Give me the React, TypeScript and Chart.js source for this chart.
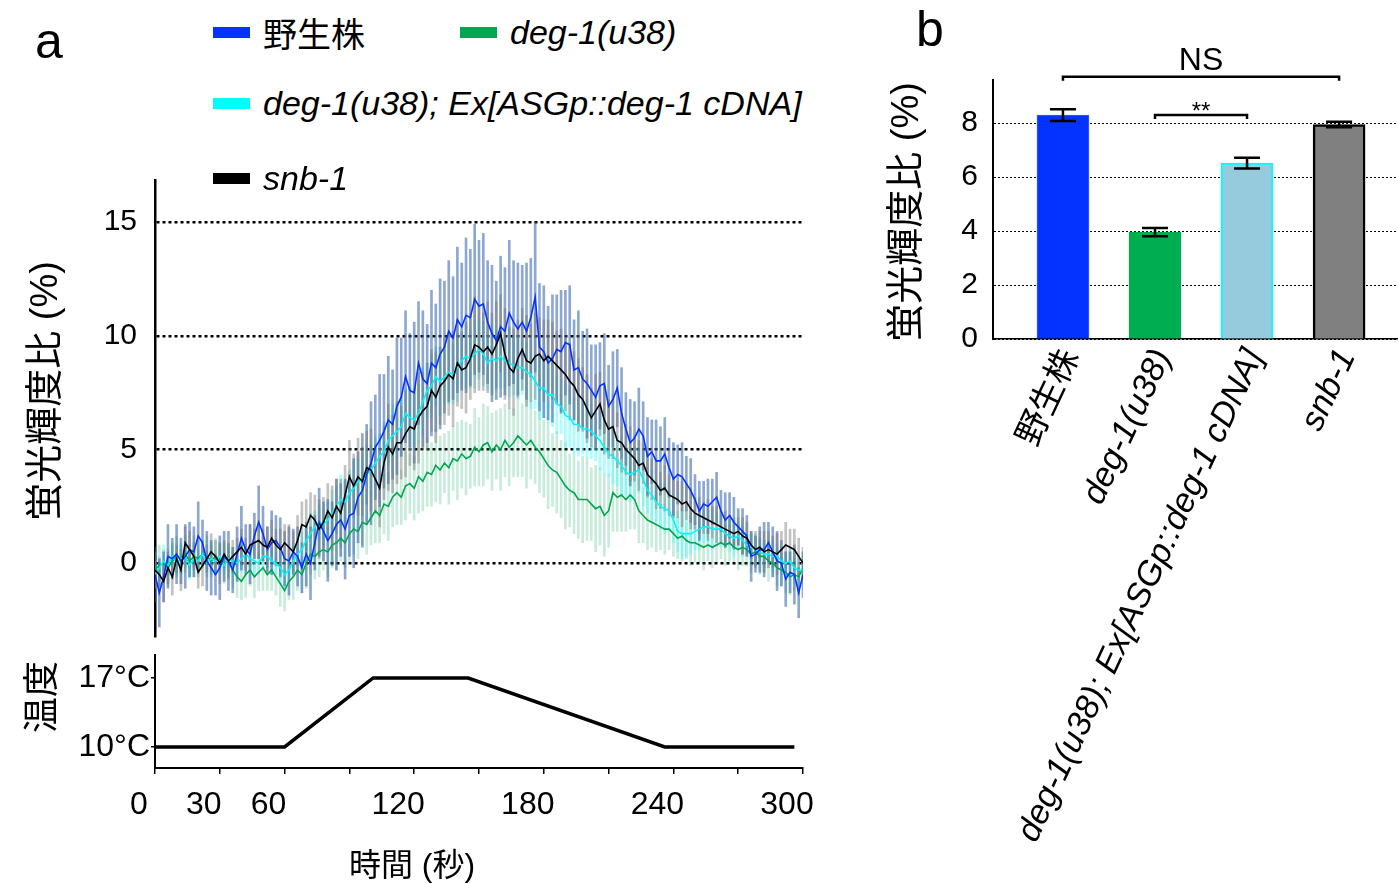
import React, { useEffect, useRef } from 'react';
import { Chart, registerables } from 'chart.js';

Chart.register(...registerables);

const FONT = '"Liberation Sans", Arial, "Noto Sans CJK JP", sans-serif';

// ---------------- data ----------------
const SAMPLE_STEP = 2; // seconds between samples

const seriesNames = ['野生株', 'deg-1(u38)', 'deg-1(u38); Ex[ASGp::deg-1 cDNA]', 'snb-1'];

const wildType = [
  -0.5, -1.3, -0.6, 0.3, 0.2, 0.4, 0.1, 0.3, 0.6, 0.5,
  1.2, 0.9, 0.1, -0.2, -0.5, -0.2, 0.3, 0.1, -0.3, 0.4,
  1.1, 0.6, 0.4, 1.2, 1.8, 1.3, 0.6, 0.9, 1.0, 0.7,
  0.2, 0.1, 0.5, 0.3, -0.2, 0.4, 0.0, 0.9, 1.8, 1.4,
  1.0, 1.3, 1.7, 1.9, 1.5, 2.1, 2.2, 2.9, 3.2, 3.9,
  4.4, 5.1, 5.4, 5.8, 6.3, 6.1, 6.9, 7.3, 8.2, 7.6,
  7.5, 8.8, 8.1, 7.9, 8.8, 8.6, 9.2, 9.5, 10.2, 9.9,
  10.7, 10.4, 10.9, 10.8, 11.6, 11.3, 11.4, 10.6, 10.1, 9.8,
  10.4, 10.2, 11.0, 10.6, 10.3, 10.6, 10.2, 10.8, 11.7, 9.5,
  9.3, 8.8, 9.0, 9.4, 9.3, 9.7, 9.6, 8.5, 8.6, 8.1,
  7.9, 7.6, 7.3, 7.8, 7.9, 6.9, 7.2, 7.7, 6.6, 5.9,
  5.3, 5.5, 5.9, 5.6, 4.7, 4.9, 4.5, 4.5, 4.8, 4.2,
  3.7, 3.9, 3.8, 3.5, 3.2, 2.8, 2.3, 2.6, 2.5, 2.7,
  2.9, 2.3, 1.9, 2.1, 1.8, 1.6, 1.4, 1.2, 0.3, 0.4,
  0.6, 0.6, 0.9, 0.5, 0.1, 0.0, -0.7, -0.4, -0.5, -1.3,
  -0.5,
];
const wildTypeErr = [
  1.2, 1.5, 1.1, 1.4, 0.9, 1.3, 1.0, 1.4, 1.2, 1.1,
  1.5, 1.0, 1.3, 1.2, 0.9, 1.4, 1.1, 1.3, 1.0, 1.2,
  1.4, 1.1, 1.3, 1.0, 1.6, 1.2, 1.0, 1.4, 1.1, 1.3,
  1.2, 1.5, 1.0, 1.3, 1.1, 1.4, 1.6, 1.2, 1.5, 1.3,
  1.8, 1.4, 2.0, 1.6, 2.2, 1.8, 2.4, 2.0, 2.5, 2.2,
  2.7, 2.3, 2.9, 2.5, 2.8, 2.4, 3.0, 2.6, 2.9, 2.5,
  3.1, 2.7, 3.0, 2.6, 3.2, 2.8, 3.3, 2.9, 3.1, 2.7,
  3.2, 2.8, 3.4, 3.0, 3.3, 2.9, 3.1, 2.7, 3.0, 2.6,
  3.1, 2.8, 3.2, 2.7, 2.9, 2.5, 3.0, 2.6, 3.3, 2.8,
  2.9, 2.5, 2.8, 2.4, 2.7, 2.3, 2.6, 2.2, 2.5, 2.1,
  2.4, 2.0, 2.3, 1.9, 2.2, 1.8, 2.1, 1.7, 2.0, 1.6,
  1.9, 1.6, 1.8, 1.5, 1.7, 1.4, 1.8, 1.5, 1.6, 1.3,
  1.6, 1.3, 1.5, 1.2, 1.4, 1.1, 1.3, 1.0, 1.2, 1.0,
  1.1, 0.9, 1.2, 1.0, 1.1, 0.8, 1.0, 0.9, 1.1, 0.8,
  1.0, 1.2, 0.9, 1.1, 1.3, 1.0, 1.2, 0.9, 1.3, 1.1,
  1.0,
];

const deg1 = [
  -0.3, -0.1, 0.0, -0.2, 0.1, 0.3, 0.2, 0.4, 0.1, 0.3,
  0.2, 0.4, 0.3, 0.1, 0.3, 0.2, 0.0, 0.1, -0.3, -0.6,
  -0.8, -0.5, -0.3, -0.6, -0.4, -0.2, -0.5, -0.3, -0.6, -0.9,
  -1.2, -0.8, -0.6, -0.3, -0.5, 0.0, 0.4, 0.3, 0.5, 0.6,
  0.5, 0.8, 0.9, 1.1, 0.9, 1.3, 1.5, 1.4, 1.8, 1.7,
  2.0, 2.3, 2.1, 2.6, 2.5, 2.9, 3.1, 2.9, 3.4, 3.5,
  3.3, 3.8, 3.6, 4.0, 3.9, 4.3, 4.1, 4.4, 4.2, 4.6,
  4.5, 4.8, 4.6, 4.7, 5.1, 4.9, 5.2, 5.3, 4.9, 5.2,
  5.0, 5.4, 5.1, 5.3, 5.6, 5.4, 5.2, 5.4, 5.1, 4.9,
  4.6, 4.3, 4.1, 4.0, 3.7, 3.4, 3.2, 3.1, 2.8, 2.8,
  2.8, 2.6, 2.4, 2.5, 2.1, 2.3, 3.1, 2.9, 3.0, 2.8,
  3.0, 2.8, 2.3, 2.1, 1.9, 1.8, 1.7, 1.6, 1.5, 1.5,
  1.3, 1.1, 1.2, 1.0, 0.9, 0.9, 0.8, 0.7, 0.8, 0.7,
  0.8, 0.9, 0.8, 0.9, 0.7, 0.6, 0.7, 0.6, 0.4, 0.5,
  0.3, 0.3, 0.1, 0.0, -0.2, -0.3, -0.4, -0.6, -0.5, -0.6,
  -0.2,
];
const deg1Err = [
  0.7, 0.9, 0.6, 0.8, 0.7, 0.9, 0.6, 0.8, 0.7, 0.9,
  0.8, 0.6, 0.9, 0.7, 0.8, 0.6, 0.9, 0.7, 0.8, 0.9,
  0.8, 1.0, 0.7, 0.9, 0.8, 1.0, 0.7, 0.9, 0.8, 1.0,
  0.9, 0.8, 1.0, 0.9, 0.8, 1.1, 0.9, 1.0, 1.1, 0.9,
  1.1, 1.0, 1.2, 1.0, 1.1, 1.3, 1.1, 1.2, 1.0, 1.3,
  1.2, 1.4, 1.2, 1.3, 1.5, 1.3, 1.4, 1.2, 1.5, 1.3,
  1.4, 1.6, 1.3, 1.5, 1.4, 1.6, 1.5, 1.3, 1.6, 1.4,
  1.7, 1.5, 1.6, 1.4, 1.7, 1.5, 1.8, 1.6, 1.7, 1.5,
  1.8, 1.6, 1.7, 1.5, 1.8, 1.6, 1.9, 1.7, 1.6, 1.8,
  1.7, 1.9, 1.6, 1.8, 1.7, 1.9, 1.6, 1.8, 1.7, 1.9,
  1.8, 1.6, 1.9, 1.7, 1.8, 1.6, 1.7, 1.5, 1.6, 1.4,
  1.5, 1.3, 1.4, 1.2, 1.3, 1.1, 1.2, 1.0, 1.1, 0.9,
  1.0, 0.9, 1.1, 0.8, 1.0, 0.9, 0.8, 1.0, 0.7, 0.9,
  0.8, 0.7, 0.9, 0.8, 0.7, 0.9, 0.8, 0.7, 0.8, 0.6,
  0.8, 0.7, 0.9, 0.6, 0.8, 0.7, 0.9, 0.8, 0.7, 0.8,
  0.7,
];

const rescue = [
  -0.5, -0.2, 0.1, -0.1, 0.3, 0.0, 0.2, 0.3, -0.1, 0.2,
  0.1, 0.4, 0.0, 0.2, 0.1, 0.3, -0.1, 0.2, 0.1, 0.0,
  0.2, 0.4, 0.2, 0.1, 0.0, 0.3, 0.3, 0.1, 0.0, -0.2,
  -0.5, -0.3, 0.1, 0.4, 0.6, 1.0, 1.3, 1.6, 1.8, 1.7,
  1.9, 2.2, 2.5, 2.8, 2.7, 3.1, 3.3, 3.6, 3.7, 3.9,
  4.1, 4.4, 4.7, 4.9, 5.4, 5.6, 5.8, 6.0, 6.6, 6.4,
  6.3, 6.6, 7.1, 7.6, 7.8, 8.2, 8.0, 8.2, 8.4, 8.3,
  8.6, 8.9, 9.1, 9.0, 9.2, 9.4, 9.2, 8.8, 9.0, 8.9,
  9.1, 8.9, 8.8, 8.7, 8.6, 8.6, 8.4, 8.3, 8.0, 7.7,
  7.7, 7.4, 7.4, 7.0, 6.9, 6.5, 6.4, 6.1, 6.1, 5.9,
  5.9, 5.8, 5.6, 5.4, 5.1, 4.8, 4.7, 4.5, 4.3, 4.0,
  3.9, 4.0, 4.1, 3.7, 3.2, 3.0, 2.7, 2.5, 2.4, 2.3,
  1.9, 1.4, 1.3, 1.3, 1.3, 1.4, 1.5, 1.6, 1.6, 1.5,
  1.5, 1.5, 1.3, 1.2, 1.1, 1.2, 1.0, 0.8, 0.7, 0.6,
  0.5, 0.4, 0.4, 0.3, 0.3, 0.1, 0.0, 0.1, -0.2, -0.3,
  -0.3,
];
const rescueErr = [
  0.6, 0.5, 0.7, 0.4, 0.6, 0.5, 0.7, 0.5, 0.6, 0.4,
  0.5, 0.6, 0.4, 0.7, 0.5, 0.6, 0.4, 0.5, 0.6, 0.5,
  0.6, 0.4, 0.5, 0.7, 0.5, 0.6, 0.4, 0.6, 0.5, 0.7,
  0.6, 0.5, 0.7, 0.6, 0.8, 0.7, 0.9, 0.7, 0.8, 0.9,
  0.8, 1.0, 0.9, 1.1, 0.9, 1.0, 1.2, 1.0, 1.1, 1.3,
  1.1, 1.2, 1.0, 1.3, 1.1, 1.4, 1.2, 1.3, 1.1, 1.4,
  1.2, 1.3, 1.5, 1.2, 1.4, 1.3, 1.5, 1.2, 1.4, 1.3,
  1.5, 1.2, 1.4, 1.3, 1.5, 1.3, 1.4, 1.2, 1.5, 1.3,
  1.4, 1.2, 1.5, 1.3, 1.4, 1.2, 1.3, 1.5, 1.2, 1.4,
  1.3, 1.2, 1.4, 1.3, 1.2, 1.4, 1.3, 1.2, 1.4, 1.1,
  1.3, 1.2, 1.1, 1.3, 1.2, 1.0, 1.2, 1.1, 1.3, 1.0,
  1.2, 1.1, 1.0, 1.2, 1.0, 1.1, 0.9, 1.0, 1.1, 0.9,
  1.0, 0.9, 1.1, 1.0, 0.9, 0.8, 0.9, 0.7, 0.8, 0.9,
  0.7, 0.8, 0.6, 0.7, 0.8, 0.6, 0.7, 0.5, 0.6, 0.7,
  0.5, 0.6, 0.5, 0.7, 0.5, 0.6, 0.4, 0.6, 0.5, 0.6,
  0.5,
];

const snb1 = [
  -0.3, -0.5, -0.8, -0.2, -0.6, 0.2, -0.3, 0.9, 0.6, 0.3,
  -0.4, -0.1, 0.2, 0.5, 0.3, 0.0, 0.4, 0.1, 0.3, 0.5,
  0.7, 0.4, 0.8, 0.9, 1.0, 0.8, 0.7, 1.1, 0.8, 0.6,
  0.9, 0.7, 0.5, 1.0, 1.7, 1.6, 2.1, 1.9, 1.5, 1.8,
  2.3, 2.0, 2.5, 2.2, 3.0, 3.8, 3.4, 3.8, 3.6, 4.2,
  4.1, 3.7, 3.3, 4.4, 5.1, 4.8, 5.3, 5.3, 5.7, 6.0,
  5.9, 6.4, 6.7, 6.9, 7.6, 7.3, 7.8, 8.0, 8.3, 8.1,
  8.8, 8.5, 8.6, 9.0, 9.6, 9.5, 9.3, 9.5, 9.2, 9.6,
  10.1, 9.2, 8.6, 8.4, 9.0, 9.4, 8.9, 8.8, 9.1, 9.2,
  8.9, 9.1, 8.9, 8.7, 8.5, 8.3, 8.0, 7.8, 7.4, 7.2,
  6.8, 6.4, 6.7, 7.0, 6.3, 5.9, 6.0, 5.4, 5.3, 5.0,
  4.8, 4.6, 4.3, 4.4, 3.9, 3.7, 3.5, 3.2, 3.3, 3.0,
  2.9, 2.8, 2.6, 2.7, 2.4, 2.2, 2.1, 2.0, 1.9, 1.8,
  1.7, 1.6, 1.5, 1.4, 1.3, 1.4, 1.2, 1.1, 0.8, 0.6,
  0.7, 0.5, 0.6, 0.5, 0.4, 0.6, 0.8, 0.7, 0.6, 0.3,
  0.0,
];
const snb1Err = [
  0.8, 0.6, 0.9, 0.7, 0.8, 0.6, 0.9, 0.7, 0.8, 0.6,
  0.7, 0.9, 0.6, 0.8, 0.7, 0.9, 0.6, 0.8, 0.7, 0.6,
  0.8, 0.7, 0.9, 0.6, 0.8, 0.7, 0.9, 0.8, 0.7, 0.9,
  0.8, 1.0, 0.9, 1.1, 1.0, 1.2, 1.0, 1.1, 1.3, 1.1,
  1.2, 1.4, 1.2, 1.5, 1.3, 1.6, 1.4, 1.7, 1.5, 1.6,
  1.8, 1.5, 1.7, 1.6, 1.9, 1.7, 1.8, 1.6, 1.9, 1.7,
  1.8, 2.0, 1.7, 1.9, 1.8, 2.0, 1.7, 1.9, 1.8, 2.1,
  1.9, 1.7, 2.0, 1.8, 2.1, 1.9, 1.7, 2.0, 1.8, 1.9,
  1.7, 2.0, 1.8, 1.9, 1.7, 1.8, 2.0, 1.7, 1.9, 1.6,
  1.8, 1.6, 1.7, 1.5, 1.8, 1.6, 1.7, 1.5, 1.6, 1.4,
  1.5, 1.3, 1.6, 1.4, 1.5, 1.3, 1.4, 1.2, 1.3, 1.1,
  1.2, 1.0, 1.1, 0.9, 1.0, 0.9, 1.1, 0.8, 1.0, 0.9,
  0.9, 0.8, 1.0, 0.8, 0.9, 0.7, 0.8, 0.7, 0.9, 0.7,
  0.8, 0.7, 0.8, 0.6, 0.7, 0.6, 0.8, 0.7, 0.6, 0.8,
  0.7, 0.9, 0.8, 0.7, 0.9, 0.8, 1.0, 0.8, 0.9, 0.8,
  0.7,
];

const fluorTicks = [0, 5, 10, 15];

const tempTimes = [0, 60, 101, 145, 236, 296];
const tempValues = [10, 10, 17, 17, 10, 10];
const tempTicks = [10, 17];
const timeTicks = [0, 30, 60, 90, 120, 150, 180, 210, 240, 270, 300];
const timeLabels = [0, 30, 60, 120, 180, 240, 300];

const barValues = [8.3, 3.96, 6.52, 7.95];
const barErrors = [0.22, 0.15, 0.2, 0.1];
const barTicks = [0, 2, 4, 6, 8];

// ---------------- styles ----------------
const traceStyles = [
  { values: deg1, errors: deg1Err, line: '#00a650', err: 'rgba(0,170,90,0.22)', order: 3 },
  { values: rescue, errors: rescueErr, line: '#00f6ff', err: 'rgba(60,255,255,0.45)', order: 2 },
  { values: wildType, errors: wildTypeErr, line: '#0433ff', err: 'rgba(45,95,170,0.55)', order: 1 },
  { values: snb1, errors: snb1Err, line: '#000000', err: 'rgba(120,120,120,0.45)', order: 0 },
];

const legendColors = ['#0433ff', '#00a650', '#00fdff', '#000000'];
const barFill = ['#0433ff', '#00ad50', '#95cbdc', '#808080'];
const barBorder = ['#3a5cff', '#00ad50', '#00ffff', '#000000'];
const barBorderWidth = [1, 1, 2, 2.5];

const noPad = (s: any) => {
  s.paddingTop = 0;
  s.paddingBottom = 0;
  s.paddingLeft = 0;
  s.paddingRight = 0;
};

function mainConfig(): any {
  const datasets: any[] = [];
  traceStyles.forEach((s) => {
    datasets.push({
      type: 'bar',
      data: s.values.map((v, i) => ({ x: i * SAMPLE_STEP, y: [v - s.errors[i], v + s.errors[i]] })),
      backgroundColor: s.err,
      borderWidth: 0,
      barThickness: 2,
      grouped: false,
      order: s.order + 10,
    });
    datasets.push({
      type: 'line',
      data: s.values.map((v, i) => ({ x: i * SAMPLE_STEP, y: v })),
      borderColor: s.line,
      borderWidth: 1.6,
      pointRadius: 0,
      tension: 0,
      order: s.order,
    });
  });
  return {
    type: 'line',
    data: { datasets },
    options: {
      animation: false,
      responsive: false,
      events: [],
      layout: { padding: { left: 0, right: 17, top: 10, bottom: 14 } },
      plugins: { legend: { display: false }, tooltip: { enabled: false } },
      scales: {
        x: { type: 'linear', min: 0, max: 300, display: false, offset: false, grid: { offset: false } },
        y: {
          type: 'linear',
          min: -3.2,
          max: 16.85,
          afterBuildTicks: (s: any) => { s.ticks = fluorTicks.map((v) => ({ value: v })); },
          afterFit: (s: any) => { s.width = 155; noPad(s); },
          ticks: { font: { size: 30, family: FONT }, color: '#000', padding: 18 },
          grid: { color: '#000', lineWidth: 2.5, drawTicks: false },
          border: { display: true, color: '#000', width: 2.5, dash: [3, 3] },
        },
      },
    },
  };
}

function tempConfig(): any {
  return {
    type: 'line',
    data: {
      datasets: [{
        data: tempTimes.map((t, i) => ({ x: t, y: tempValues[i] })),
        borderColor: '#000',
        borderWidth: 3.5,
        pointRadius: 0,
        tension: 0,
      }],
    },
    options: {
      animation: false,
      responsive: false,
      events: [],
      layout: { padding: { left: 0, right: 17, top: 15, bottom: 0 } },
      plugins: { legend: { display: false }, tooltip: { enabled: false } },
      scales: {
        x: {
          type: 'linear', min: 0, max: 300, offset: false,
          afterBuildTicks: (s: any) => { s.ticks = timeTicks.map((v) => ({ value: v })); },
          afterFit: (s: any) => { s.height = 116; noPad(s); },
          ticks: {
            callback: (v: any) => (timeLabels.includes(v) ? String(v) : ''),
            font: { size: 32, family: FONT }, color: '#000', padding: 12, labelOffset: -16,
            autoSkip: false, maxRotation: 0, minRotation: 0,
          },
          grid: { drawOnChartArea: false, drawTicks: true, tickLength: 6, color: '#000', lineWidth: 1.5 },
          border: { display: true, color: '#000', width: 2 },
        },
        y: {
          type: 'linear', min: 7.87, max: 19.33,
          afterBuildTicks: (s: any) => { s.ticks = tempTicks.map((v) => ({ value: v })); },
          afterFit: (s: any) => { s.width = 155; noPad(s); },
          ticks: { callback: (v: any) => `${v}°C`, font: { size: 32, family: FONT }, color: '#000', padding: 1 },
          grid: { drawOnChartArea: false, drawTicks: true, tickLength: 4, color: '#000', lineWidth: 1.5 },
          border: { display: true, color: '#000', width: 2 },
        },
      },
    },
  };
}

const barErrorPlugin = {
  id: 'barErrorPlugin',
  afterDatasetsDraw(chart: any) {
    const { ctx, scales } = chart;
    const x = scales.x;
    const y = scales.y;
    ctx.save();
    ctx.strokeStyle = '#000';
    ctx.lineWidth = 2.5;
    barValues.forEach((v, i) => {
      const px = x.getPixelForValue(i);
      const top = y.getPixelForValue(v + barErrors[i]);
      const bot = y.getPixelForValue(v - barErrors[i]);
      ctx.beginPath();
      ctx.moveTo(px, top); ctx.lineTo(px, bot);
      ctx.moveTo(px - 13, top); ctx.lineTo(px + 13, top);
      ctx.moveTo(px - 13, bot); ctx.lineTo(px + 13, bot);
      ctx.stroke();
    });
    ctx.restore();
  },
};

const brackets = [
  { from: 0, to: 3, text: 'NS', level: 9.72, size: 32 },
  { from: 1, to: 2, text: '**', level: 8.3, size: 24 },
];

const bracketPlugin = {
  id: 'bracketPlugin',
  afterDraw(chart: any) {
    const { ctx, scales } = chart;
    const x = scales.x;
    const y = scales.y;
    ctx.save();
    ctx.strokeStyle = '#000';
    ctx.fillStyle = '#000';
    ctx.lineWidth = 2.5;
    brackets.forEach((b) => {
      const x1 = x.getPixelForValue(b.from);
      const x2 = x.getPixelForValue(b.to);
      const py = y.getPixelForValue(b.level);
      ctx.beginPath();
      ctx.moveTo(x1, py + 4); ctx.lineTo(x1, py); ctx.lineTo(x2, py); ctx.lineTo(x2, py + 4);
      ctx.stroke();
      ctx.font = `${b.size}px ${FONT}`;
      ctx.textAlign = 'center';
      ctx.textBaseline = 'alphabetic';
      ctx.fillText(b.text, (x1 + x2) / 2, py - (b.text === 'NS' ? 7 : -4));
    });
    ctx.restore();
  },
};

function barConfig(): any {
  return {
    type: 'bar',
    data: {
      datasets: [{
        data: barValues.map((v, i) => ({ x: i, y: v })),
        backgroundColor: barFill,
        borderColor: barBorder,
        borderWidth: barBorderWidth,
        barThickness: 52,
      }],
    },
    options: {
      animation: false,
      responsive: false,
      events: [],
      layout: { padding: { left: 0, right: 0, top: 80, bottom: 0 } },
      plugins: { legend: { display: false }, tooltip: { enabled: false } },
      scales: {
        x: {
          type: 'linear', min: -0.76, max: 3.64, offset: false,
          afterBuildTicks: (s: any) => { s.ticks = seriesNames.map((_, i) => ({ value: i })); },
          afterFit: (s: any) => { s.height = 545; noPad(s); },
          ticks: {
            autoSkip: false, minRotation: 65, maxRotation: 65,
            callback: (v: any) => seriesNames[v] ?? '',
            font: (c: any) => ({ size: 34, family: FONT, style: c.index === 0 ? 'normal' : 'italic' }),
            color: '#000', padding: 4, labelOffset: 8,
          },
          grid: { display: false, drawTicks: false },
          border: { display: true, color: '#000', width: 1.5 },
        },
        y: {
          type: 'linear', min: 0, max: 9.6,
          afterBuildTicks: (s: any) => { s.ticks = barTicks.map((v) => ({ value: v })); },
          afterFit: (s: any) => { s.width = 133; noPad(s); },
          ticks: { font: { size: 30, family: FONT }, color: '#000', padding: 15 },
          grid: { color: '#000', lineWidth: 1, drawTicks: false },
          border: { display: true, color: '#000', width: 2, dash: [2, 2] },
        },
      },
    },
    plugins: [barErrorPlugin, bracketPlugin],
  };
}

function LegendItem({ left, cy, color, label, italic }: any) {
  return (
    <div style={{ position: 'absolute', left, top: cy - 20, height: 40, display: 'flex', alignItems: 'center', whiteSpace: 'nowrap' }}>
      <div style={{ width: 37, height: 11, background: color, marginRight: 13 }} />
      <span style={{ fontSize: 34, fontStyle: italic ? 'italic' : 'normal', fontFamily: FONT, color: '#000' }}>{label}</span>
    </div>
  );
}

function VTitle({ cx, cy, size, text }: any) {
  return (
    <div style={{
      position: 'absolute', left: cx, top: cy, transform: 'translate(-50%, -50%) rotate(-90deg)',
      fontSize: size, fontFamily: FONT, whiteSpace: 'nowrap', lineHeight: 1, color: '#000',
    }}>{text}</div>
  );
}

export default function App() {
  const mainRef = useRef<HTMLCanvasElement>(null);
  const tempRef = useRef<HTMLCanvasElement>(null);
  const barRef = useRef<HTMLCanvasElement>(null);

  useEffect(() => {
    const charts = [
      new Chart(mainRef.current as HTMLCanvasElement, mainConfig()),
      new Chart(tempRef.current as HTMLCanvasElement, tempConfig()),
      new Chart(barRef.current as HTMLCanvasElement, barConfig()),
    ];
    return () => charts.forEach((c) => c.destroy());
  }, []);

  return (
    <div style={{ position: 'absolute', left: 0, top: 0, width: 1398, height: 884, background: '#fff', overflow: 'hidden', fontFamily: FONT }}>
      <canvas ref={mainRef} width={820} height={480} style={{ position: 'absolute', left: 0, top: 170 }} />
      <canvas ref={tempRef} width={820} height={244} style={{ position: 'absolute', left: 0, top: 640 }} />
      <canvas ref={barRef} width={538} height={884} style={{ position: 'absolute', left: 860, top: 0 }} />

      <div style={{ position: 'absolute', left: 35, top: 16, fontSize: 50, lineHeight: 1, fontFamily: FONT }}>a</div>
      <div style={{ position: 'absolute', left: 916, top: 4, fontSize: 50, lineHeight: 1, fontFamily: FONT }}>b</div>

      <LegendItem left={213} cy={32} color={legendColors[0]} label={seriesNames[0]} italic={false} />
      <LegendItem left={460} cy={32} color={legendColors[1]} label={seriesNames[1]} italic={true} />
      <LegendItem left={213} cy={103} color={legendColors[2]} label={seriesNames[2]} italic={true} />
      <LegendItem left={213} cy={178} color={legendColors[3]} label={seriesNames[3]} italic={true} />

      <VTitle cx={44} cy={391} size={38} text="蛍光輝度比 (%)" />
      <VTitle cx={42} cy={697} size={36} text="温度" />
      <VTitle cx={905} cy={212} size={38} text="蛍光輝度比 (%)" />
      <div style={{ position: 'absolute', left: 412, top: 865, transform: 'translate(-50%, -50%)', fontSize: 32, fontFamily: FONT, whiteSpace: 'nowrap', lineHeight: 1 }}>時間 (秒)</div>
    </div>
  );
}
